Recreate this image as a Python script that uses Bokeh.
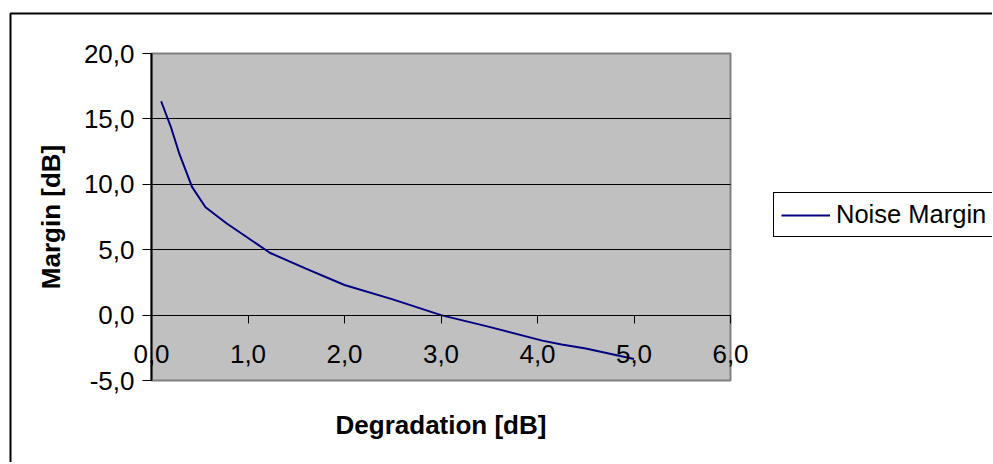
from bokeh.plotting import figure
from bokeh.models import (Range1d, FixedTicker, Legend, LegendItem, LinearAxis,
                          BoxAnnotation, Grid)
from bokeh.embed import file_html
from bokeh.resources import INLINE

# ---- data ----
degradation = [0.10, 0.20, 0.29, 0.42, 0.56, 0.78, 1.23, 1.60, 2.00, 2.50,
               3.00, 3.50, 4.05, 4.25, 4.50, 5.00]
margin = [16.35, 14.4, 12.3, 9.8, 8.25, 7.0, 4.75, 3.55, 2.3, 1.2,
          0.0, -0.9, -1.95, -2.25, -2.55, -3.35]
series_name = "Noise Margin"

x_ticks = [0, 1, 2, 3, 4, 5, 6]
x_tick_labels = ["0,0", "1,0", "2,0", "3,0", "4,0", "5,0", "6,0"]
y_ticks = [-5, 0, 5, 10, 15, 20]
y_tick_labels = ["-5,0", "0,0", "5,0", "10,0", "15,0", "20,0"]
x_title = "Degradation [dB]"
y_title = "Margin [dB]"

FONT = "Liberation Sans"

# ---- layout (canvas pixels) ----
W, H = 992, 462
PA_LEFT, PA_RIGHT = 151, 730     # plot-area edges on the canvas
PA_TOP, PA_BOTTOM = 53, 380
BORDER_X, BORDER_Y = 10, 13      # outer chart border (left / top)

x0, x1 = x_ticks[0], x_ticks[-1]
y0, y1 = y_ticks[0], y_ticks[-1]
sx = (PA_RIGHT - PA_LEFT) / (x1 - x0)
sy = (PA_BOTTOM - PA_TOP) / (y1 - y0)
xr = Range1d(x0 - PA_LEFT / sx, x1 + (W - PA_RIGHT) / sx)
yr = Range1d(y0 - (H - PA_BOTTOM) / sy, y1 + PA_TOP / sy)

p = figure(width=W, height=H, output_backend="svg", toolbar_location=None,
           title=None, x_range=xr, y_range=yr,
           x_axis_location=None, y_axis_location=None,
           min_border=0)
p.min_border_left = p.min_border_right = 0
p.min_border_top = p.min_border_bottom = 0
p.background_fill_color = "white"
p.border_fill_color = "white"
p.outline_line_color = None
for g in list(p.grid):
    g.visible = False

# grey plot area
area = BoxAnnotation(left=x0, right=x1, bottom=y0, top=y1,
                     fill_color="#C0C0C0", fill_alpha=1,
                     line_color="#808080", line_alpha=1, line_width=2,
                     level="image")
p.add_layout(area)

# horizontal grid lines, limited to the plot area
if "cross_bounds" in Grid.properties():
    g = Grid(dimension=1, ticker=FixedTicker(ticks=y_ticks[1:-1]),
             grid_line_color="black", grid_line_width=1,
             cross_bounds=(x0, x1))
    p.add_layout(g)
else:
    p.segment(x0=[x0] * (len(y_ticks) - 2), x1=[x1] * (len(y_ticks) - 2),
              y0=y_ticks[1:-1], y1=y_ticks[1:-1],
              line_color="black", line_width=1, level="underlay")

# x axis crossing at y = 0
xa = LinearAxis(fixed_location=0, bounds=(x0, x1),
                ticker=FixedTicker(ticks=x_ticks))
xa.major_label_overrides = {t: l for t, l in zip(x_ticks, x_tick_labels)}
xa.minor_tick_line_color = None
xa.major_tick_in = 0
xa.major_tick_out = 8
xa.major_tick_line_color = "black"
xa.axis_line_color = "black"
xa.axis_line_width = 1
xa.major_label_standoff = 22
xa.major_label_text_font = FONT
xa.major_label_text_font_size = "26px"
xa.major_label_text_color = "black"
xa.axis_label = x_title
xa.axis_label_text_font = FONT
xa.axis_label_text_font_size = "26px"
xa.axis_label_text_font_style = "bold"
xa.axis_label_text_color = "black"
xa.axis_label_standoff = 43
p.add_layout(xa, "below")

# y axis at x = 0
ya = LinearAxis(fixed_location=0, bounds=(y0, y1),
                ticker=FixedTicker(ticks=y_ticks))
ya.major_label_overrides = {t: l for t, l in zip(y_ticks, y_tick_labels)}
ya.minor_tick_line_color = None
ya.major_tick_in = 0
ya.major_tick_out = 9
ya.major_tick_line_color = "black"
ya.axis_line_color = "black"
ya.axis_line_width = 2
ya.major_label_standoff = 8
ya.major_label_text_font = FONT
ya.major_label_text_font_size = "26px"
ya.major_label_text_color = "black"
ya.axis_label = y_title
ya.axis_label_text_font = FONT
ya.axis_label_text_font_size = "26px"
ya.axis_label_text_font_style = "bold"
ya.axis_label_text_color = "black"
ya.axis_label_standoff = 15
p.add_layout(ya, "left")

r = p.line(degradation, margin, line_color="#000080", line_width=2)

legend = Legend(items=[LegendItem(label=series_name, renderers=[r])],
                location=(773, H - 237), orientation="vertical",
                label_text_font=FONT, label_text_font_size="25.5px",
                label_text_color="black",
                glyph_width=49, glyph_height=24, label_standoff=6,
                padding=7, margin=0, spacing=0,
                border_line_color="black", border_line_width=1,
                border_line_alpha=1,
                background_fill_color="white", background_fill_alpha=1)
p.add_layout(legend, "center")

# outer chart-area border (left and top visible, the rest runs off-window)
box = BoxAnnotation(left=xr.start + BORDER_X / sx, right=xr.end + 5,
                    top=yr.end - BORDER_Y / sy, bottom=yr.start - 5,
                    fill_alpha=0, line_color="black", line_alpha=1,
                    line_width=2, level="overlay")
p.add_layout(box)

open("out.html", "w").write(file_html(p, INLINE))
